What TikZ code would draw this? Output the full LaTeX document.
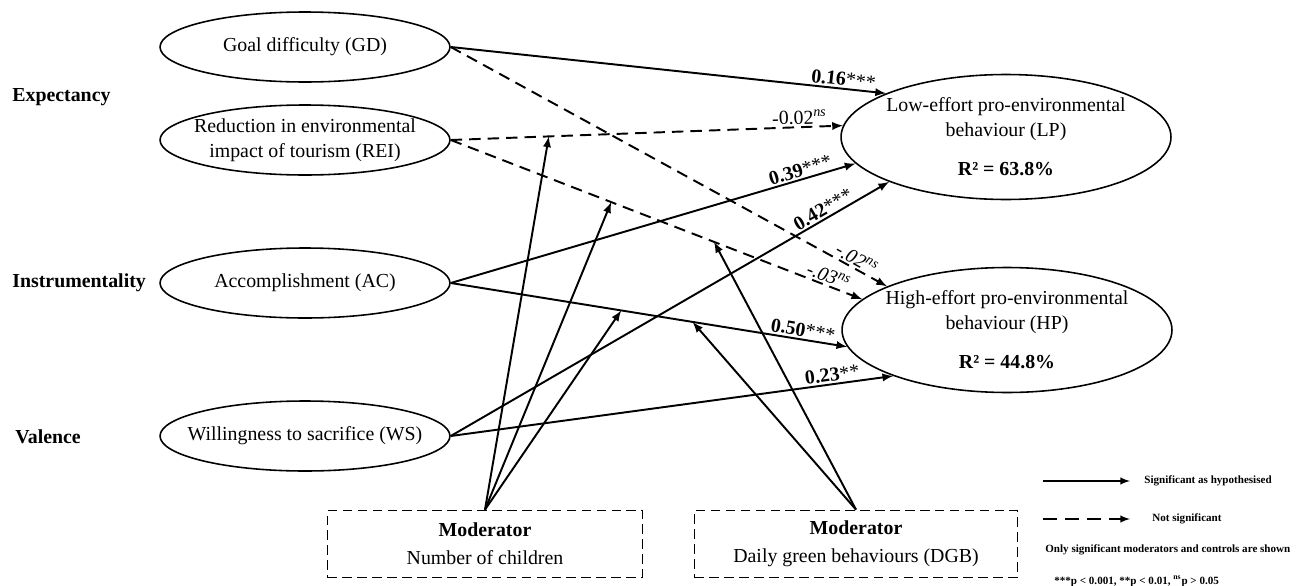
\documentclass[tikz,border=0pt]{standalone}
\usepackage{fontspec}
\setmainfont{Liberation Serif}
\usepackage{tikz}
\usetikzlibrary{shapes,arrows,positioning}

\begin{document}
\begin{tikzpicture}[x=0.02cm,y=-0.02cm,font=\fontsize{11.3}{14}\selectfont]
\tikzstyle{latent}=[ellipse, draw=black, line width=0.9pt, minimum width=5.8cm, minimum height=1.4cm, inner xsep=-0.3cm, inner ysep=-0.1cm, align=center]
\tikzstyle{outcome}=[ellipse, draw=black, line width=0.9pt, minimum width=6.6cm, minimum height=2.5cm, inner xsep=-0.3cm, inner ysep=-0.25cm, align=center]
\tikzstyle{moder}=[rectangle, draw=black, line width=1pt, dash pattern=on 5.5pt off 3pt, minimum height=1.34cm, align=center]
\tikzstyle{side}=[anchor=west, inner sep=0pt, font=\fontsize{11.3}{14}\selectfont\bfseries]
\tikzstyle{sig}=[-latex, line width=1.1pt]
\tikzstyle{nsig}=[-latex, line width=1.1pt, dash pattern=on 6.5pt off 4pt]
\tikzstyle{coef}=[above, sloped, inner sep=1pt]
\tikzstyle{legend}=[anchor=west, inner sep=0pt, font=\fontsize{6.3}{7.5}\selectfont\bfseries]

\useasboundingbox (0,0) rectangle (1305,585);

\node[side] (s_exp) at (12,97) {Expectancy};
\node[side] (s_ins) at (12,283) {Instrumentality};
\node[side] (s_val) at (15,437) {Valence};

\node[latent] (x_gd) at (305,47) {Goal difficulty (GD)};
\node[latent] (x_rei) at (305,140) {Reduction in environmental\\impact of tourism (REI)};
\node[latent] (x_ac) at (305,283) {Accomplishment (AC)};
\node[latent] (x_ws) at (305,436) {Willingness to sacrifice (WS)};

\node[outcome] (y_lp) at (1006,137) {Low-effort pro-environmental\\behaviour (LP)\\[0.3cm]\textbf{R² = 63.8\%}};
\node[outcome] (y_hp) at (1007,330) {High-effort pro-environmental\\behaviour (HP)\\[0.3cm]\textbf{R² = 44.8\%}};

\node[moder, minimum width=6.3cm] (m_c) at (485,544) {\textbf{Moderator}\\[2pt]Number of children};
\node[moder, minimum width=6.46cm] (m_dgb) at (856,544) {\textbf{Moderator}\\[2pt]Daily green behaviours (DGB)};

% paths to LP
\draw[sig] (x_gd.east) -- node[coef,pos=0.9]{\textbf{0.16}***} (y_lp.160);
\draw[nsig] (x_rei.east) -- coordinate[pos=0.25] (c_rl) node[coef,pos=0.89]{-0.02\textsuperscript{\textit{ns}}} (y_lp.176);
\draw[sig] (x_ac.east) -- node[coef,pos=0.87]{\textbf{0.39}***} (y_lp.190);
\draw[sig] (x_ws.east) -- node[coef,pos=0.86]{\textbf{0.42}***} (y_lp.201);

% paths to HP
\draw[nsig] (x_gd.east) -- node[coef,pos=0.92]{\textit{-.02}\textsuperscript{\textit{ns}}} (y_hp.160);
\draw[nsig] (x_rei.east) -- coordinate[pos=0.39] (c_rh1) coordinate[pos=0.64] (c_rh2) node[coef,pos=0.91]{\textit{-.03}\textsuperscript{\textit{ns}}} (y_hp.168);
\draw[sig] (x_ac.east) -- coordinate[pos=0.43] (c_ah1) coordinate[pos=0.61] (c_ah2) node[coef,pos=0.885]{\textbf{0.50}***} (y_hp.186);
\draw[sig] (x_ws.east) -- node[coef,pos=0.865]{\textbf{0.23}**} (y_hp.202);

% moderators
\draw[sig] (m_c.north) -- (c_rl);
\draw[sig] (m_c.north) -- (c_rh1);
\draw[sig] (m_c.north) -- (c_ah1);
\draw[sig] (m_dgb.north) -- (c_rh2);
\draw[sig] (m_dgb.north) -- (c_ah2);

% legend
\coordinate (l_s1) at (1043,481);
\coordinate (l_s2) at (1130,481);
\coordinate (l_n1) at (1043,519);
\coordinate (l_n2) at (1130,519);
\draw[sig, line width=0.9pt] (l_s1) -- (l_s2);
\draw[nsig, line width=0.9pt, dash pattern=on 8pt off 4.5pt] (l_n1) -- (l_n2);
\node[legend] (l_sig) at (1144,481) {Significant as hypothesised};
\node[legend] (l_ns) at (1152,519) {Not significant};
\node[legend] (l_note) at (1045,550) {Only significant moderators and controls are shown};
\node[legend, anchor=base west] (l_p) at (1054,584) {***p < 0.001, **p < 0.01, \textsuperscript{ns}p > 0.05};

\end{tikzpicture}
\end{document}
